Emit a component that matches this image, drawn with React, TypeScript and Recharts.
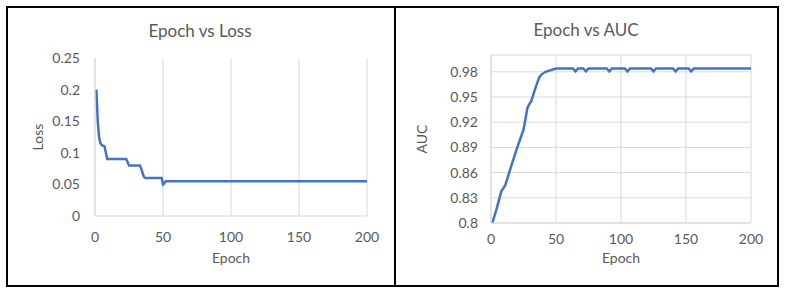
import React from "react";
import { LineChart, Line, XAxis, YAxis, CartesianGrid } from "recharts";

// Epoch vs Loss (change points)
const lossEpochs = [1, 2, 3, 4, 5, 7, 8, 9, 23, 24, 25, 33, 34, 35, 36, 37, 49, 50, 51, 52, 200];
const lossValues = [0.2, 0.15, 0.125, 0.115, 0.112, 0.11, 0.1, 0.09, 0.09, 0.085, 0.08, 0.08, 0.075, 0.068, 0.062, 0.06, 0.06, 0.05, 0.052, 0.055, 0.055];

// Epoch vs AUC
const aucEpochs = [1, 4, 8, 11, 15, 20, 25, 27, 28, 30, 31, 34, 37, 39, 42, 46, 50, 63, 65, 67, 71, 73, 75, 89, 91, 93, 103, 105, 107, 123, 125, 127, 140, 142, 144, 152, 154, 156, 200];
const aucValues = [0.8, 0.815, 0.838, 0.845, 0.865, 0.889, 0.911, 0.928, 0.937, 0.943, 0.945, 0.96, 0.973, 0.977, 0.98, 0.982, 0.984, 0.984, 0.9805, 0.984, 0.984, 0.9805, 0.984, 0.984, 0.9805, 0.984, 0.984, 0.9805, 0.984, 0.984, 0.9805, 0.984, 0.984, 0.9805, 0.984, 0.984, 0.9805, 0.984, 0.984];

const xTicks = [0, 50, 100, 150, 200];
const lossTicks = [0, 0.05, 0.1, 0.15, 0.2, 0.25];
const aucTicks = [0.8, 0.83, 0.86, 0.89, 0.92, 0.95, 0.98];

const lossData = lossEpochs.map((epoch, i) => ({ epoch, loss: lossValues[i] }));
const aucData = aucEpochs.map((epoch, i) => ({ epoch, auc: aucValues[i] }));

const FONT = "Lato, 'Open Sans', sans-serif";
const GRAY = "#595959";
const GRID = "#d9d9d9";
const BLUE = "#4472c4";

const tickStyle = { fontSize: 14, fill: GRAY, fontFamily: FONT };
const labelStyle = { fontSize: 14, fill: GRAY, fontFamily: FONT, textAnchor: "middle" as const };

const titleStyle = (left: number, top: number): React.CSSProperties => ({
  position: "absolute",
  left,
  top,
  transform: "translate(-50%, -50%)",
  fontFamily: FONT,
  fontSize: 17,
  color: GRAY,
  whiteSpace: "nowrap",
});

const App = () => {
  return (
    <div style={{ position: "absolute", left: 0, top: 0, width: 787, height: 295, background: "#fff" }}>
      {/* table borders */}
      <div style={{ position: "absolute", left: 6, top: 6, width: 773, height: 281, border: "2px solid #000", boxSizing: "border-box" }} />
      <div style={{ position: "absolute", left: 394, top: 6, width: 2, height: 281, background: "#000" }} />

      <div style={titleStyle(200, 30)}>Epoch vs Loss</div>
      <div style={titleStyle(586, 29)}>Epoch vs AUC</div>

      <div style={{ position: "absolute", left: 9, top: 9 }}>
        <LineChart width={385} height={276} data={lossData} margin={{ top: 49, right: 27, bottom: 19, left: 0 }}>
          <CartesianGrid stroke={GRID} horizontal={false} vertical={true} />
          <XAxis
            dataKey="epoch"
            type="number"
            domain={[0, 200]}
            ticks={xTicks}
            height={50}
            stroke={GRID}
            tickLine={false}
            tickSize={0}
            tickMargin={16}
            tick={tickStyle}
            label={{ value: "Epoch", position: "insideBottom", offset: 3, style: labelStyle }}
          />
          <YAxis
            type="number"
            domain={[0, 0.25]}
            ticks={lossTicks}
            width={86}
            stroke={GRID}
            tickLine={false}
            tickSize={0}
            tickMargin={15}
            tick={tickStyle}
            label={{ value: "Loss", angle: -90, position: "insideLeft", offset: 29, style: labelStyle }}
          />
          <Line type="linear" dataKey="loss" stroke={BLUE} strokeWidth={2.5} dot={false} isAnimationActive={false} />
        </LineChart>
      </div>

      <div style={{ position: "absolute", left: 397, top: 9 }}>
        <LineChart width={380} height={276} data={aucData} margin={{ top: 46, right: 26, bottom: 16, left: 0 }}>
          <CartesianGrid stroke={GRID} horizontal={true} vertical={true} />
          <XAxis
            dataKey="epoch"
            type="number"
            domain={[0, 200]}
            ticks={xTicks}
            height={46}
            stroke={GRID}
            tickLine={false}
            tickSize={0}
            tickMargin={11}
            tick={tickStyle}
            label={{ value: "Epoch", position: "insideBottom", offset: 6, style: labelStyle }}
          />
          <YAxis
            type="number"
            domain={[0.8, 1.0]}
            ticks={aucTicks}
            width={94}
            stroke={GRID}
            tickLine={false}
            tickSize={0}
            tickMargin={13}
            tick={tickStyle}
            label={{ value: "AUC", angle: -90, position: "insideLeft", offset: 25, style: labelStyle }}
          />
          <Line type="linear" dataKey="auc" stroke={BLUE} strokeWidth={2.5} dot={false} isAnimationActive={false} />
        </LineChart>
      </div>
    </div>
  );
};

export default App;
